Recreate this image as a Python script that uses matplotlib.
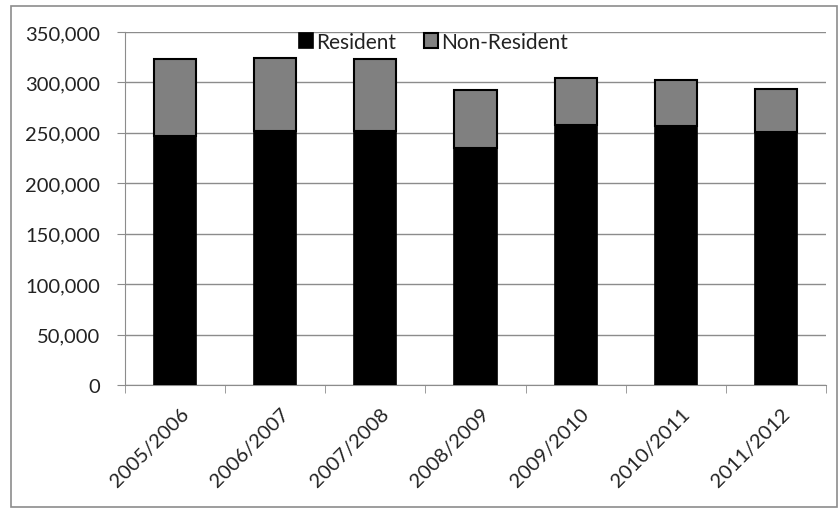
import matplotlib.pyplot as plt
from matplotlib.patches import Rectangle
from matplotlib.ticker import FuncFormatter
from matplotlib.transforms import ScaledTranslation

seasons = ['2005/2006', '2006/2007', '2007/2008', '2008/2009',
           '2009/2010', '2010/2011', '2011/2012']
resident = [246500, 251800, 251500, 235000, 258000, 257000, 250500]
non_resident = [76500, 72600, 71500, 57000, 46000, 45000, 42500]

plt.rcParams['font.family'] = ['Lato', 'DejaVu Sans']

fig = plt.figure(figsize=(8.4, 5.1), dpi=100)
ax = fig.add_axes([0.1488, 0.2431, 0.8345, 0.6922])

# chart border
fig.patches.append(Rectangle((11/840, 2/510), 826/840, 501/510, transform=fig.transFigure,
                             fill=False, edgecolor='#8c8c8c', linewidth=1.2))

x = list(range(len(seasons)))
ax.bar(x, resident, width=0.42, color='black', edgecolor='black', linewidth=1.2,
       label='Resident', zorder=3)
ax.bar(x, non_resident, width=0.42, bottom=resident, color='#808080',
       edgecolor='black', linewidth=1.5, label='Non-Resident', zorder=3)

ax.set_xlim(-0.5, len(seasons) - 0.5)
ax.set_ylim(0, 350000)
ax.set_yticks(range(0, 350001, 50000))
ax.yaxis.set_major_formatter(FuncFormatter(lambda v, p: f'{int(v):,}'))
ax.grid(axis='y', color='#8c8c8c', linewidth=1, zorder=0)

ax.set_xticks(x)
ax.set_xticklabels(seasons, rotation=45, ha='right', rotation_mode='anchor')
ax.set_xticks([i - 0.5 for i in range(len(seasons) + 1)], minor=True)
ax.tick_params(axis='x', which='major', length=0, pad=14, labelsize=14.5, colors='#222222')
ax.tick_params(axis='x', which='minor', length=6, color='#8c8c8c', direction='out')
ax.tick_params(axis='y', length=6, labelsize=14.5, colors='#222222', pad=12)
ax.tick_params(axis='y', color='#8c8c8c')

# nudge rotated labels a little to the right, as in the original
shift = ScaledTranslation(5/100, 0, fig.dpi_scale_trans)
for lab in ax.get_xticklabels():
    lab.set_transform(lab.get_transform() + shift)

for s in ['top', 'right']:
    ax.spines[s].set_visible(False)
for s in ['left', 'bottom']:
    ax.spines[s].set_color('#8c8c8c')

leg = ax.legend(loc='center', bbox_to_anchor=(0.44, 0.972), ncol=2, frameon=False,
                fontsize=15, handlelength=0.7, handleheight=0.7, handletextpad=0.15,
                columnspacing=1.3, borderaxespad=0)
for t in leg.get_texts():
    t.set_color('#222222')

fig.savefig('out.png', dpi=100)
